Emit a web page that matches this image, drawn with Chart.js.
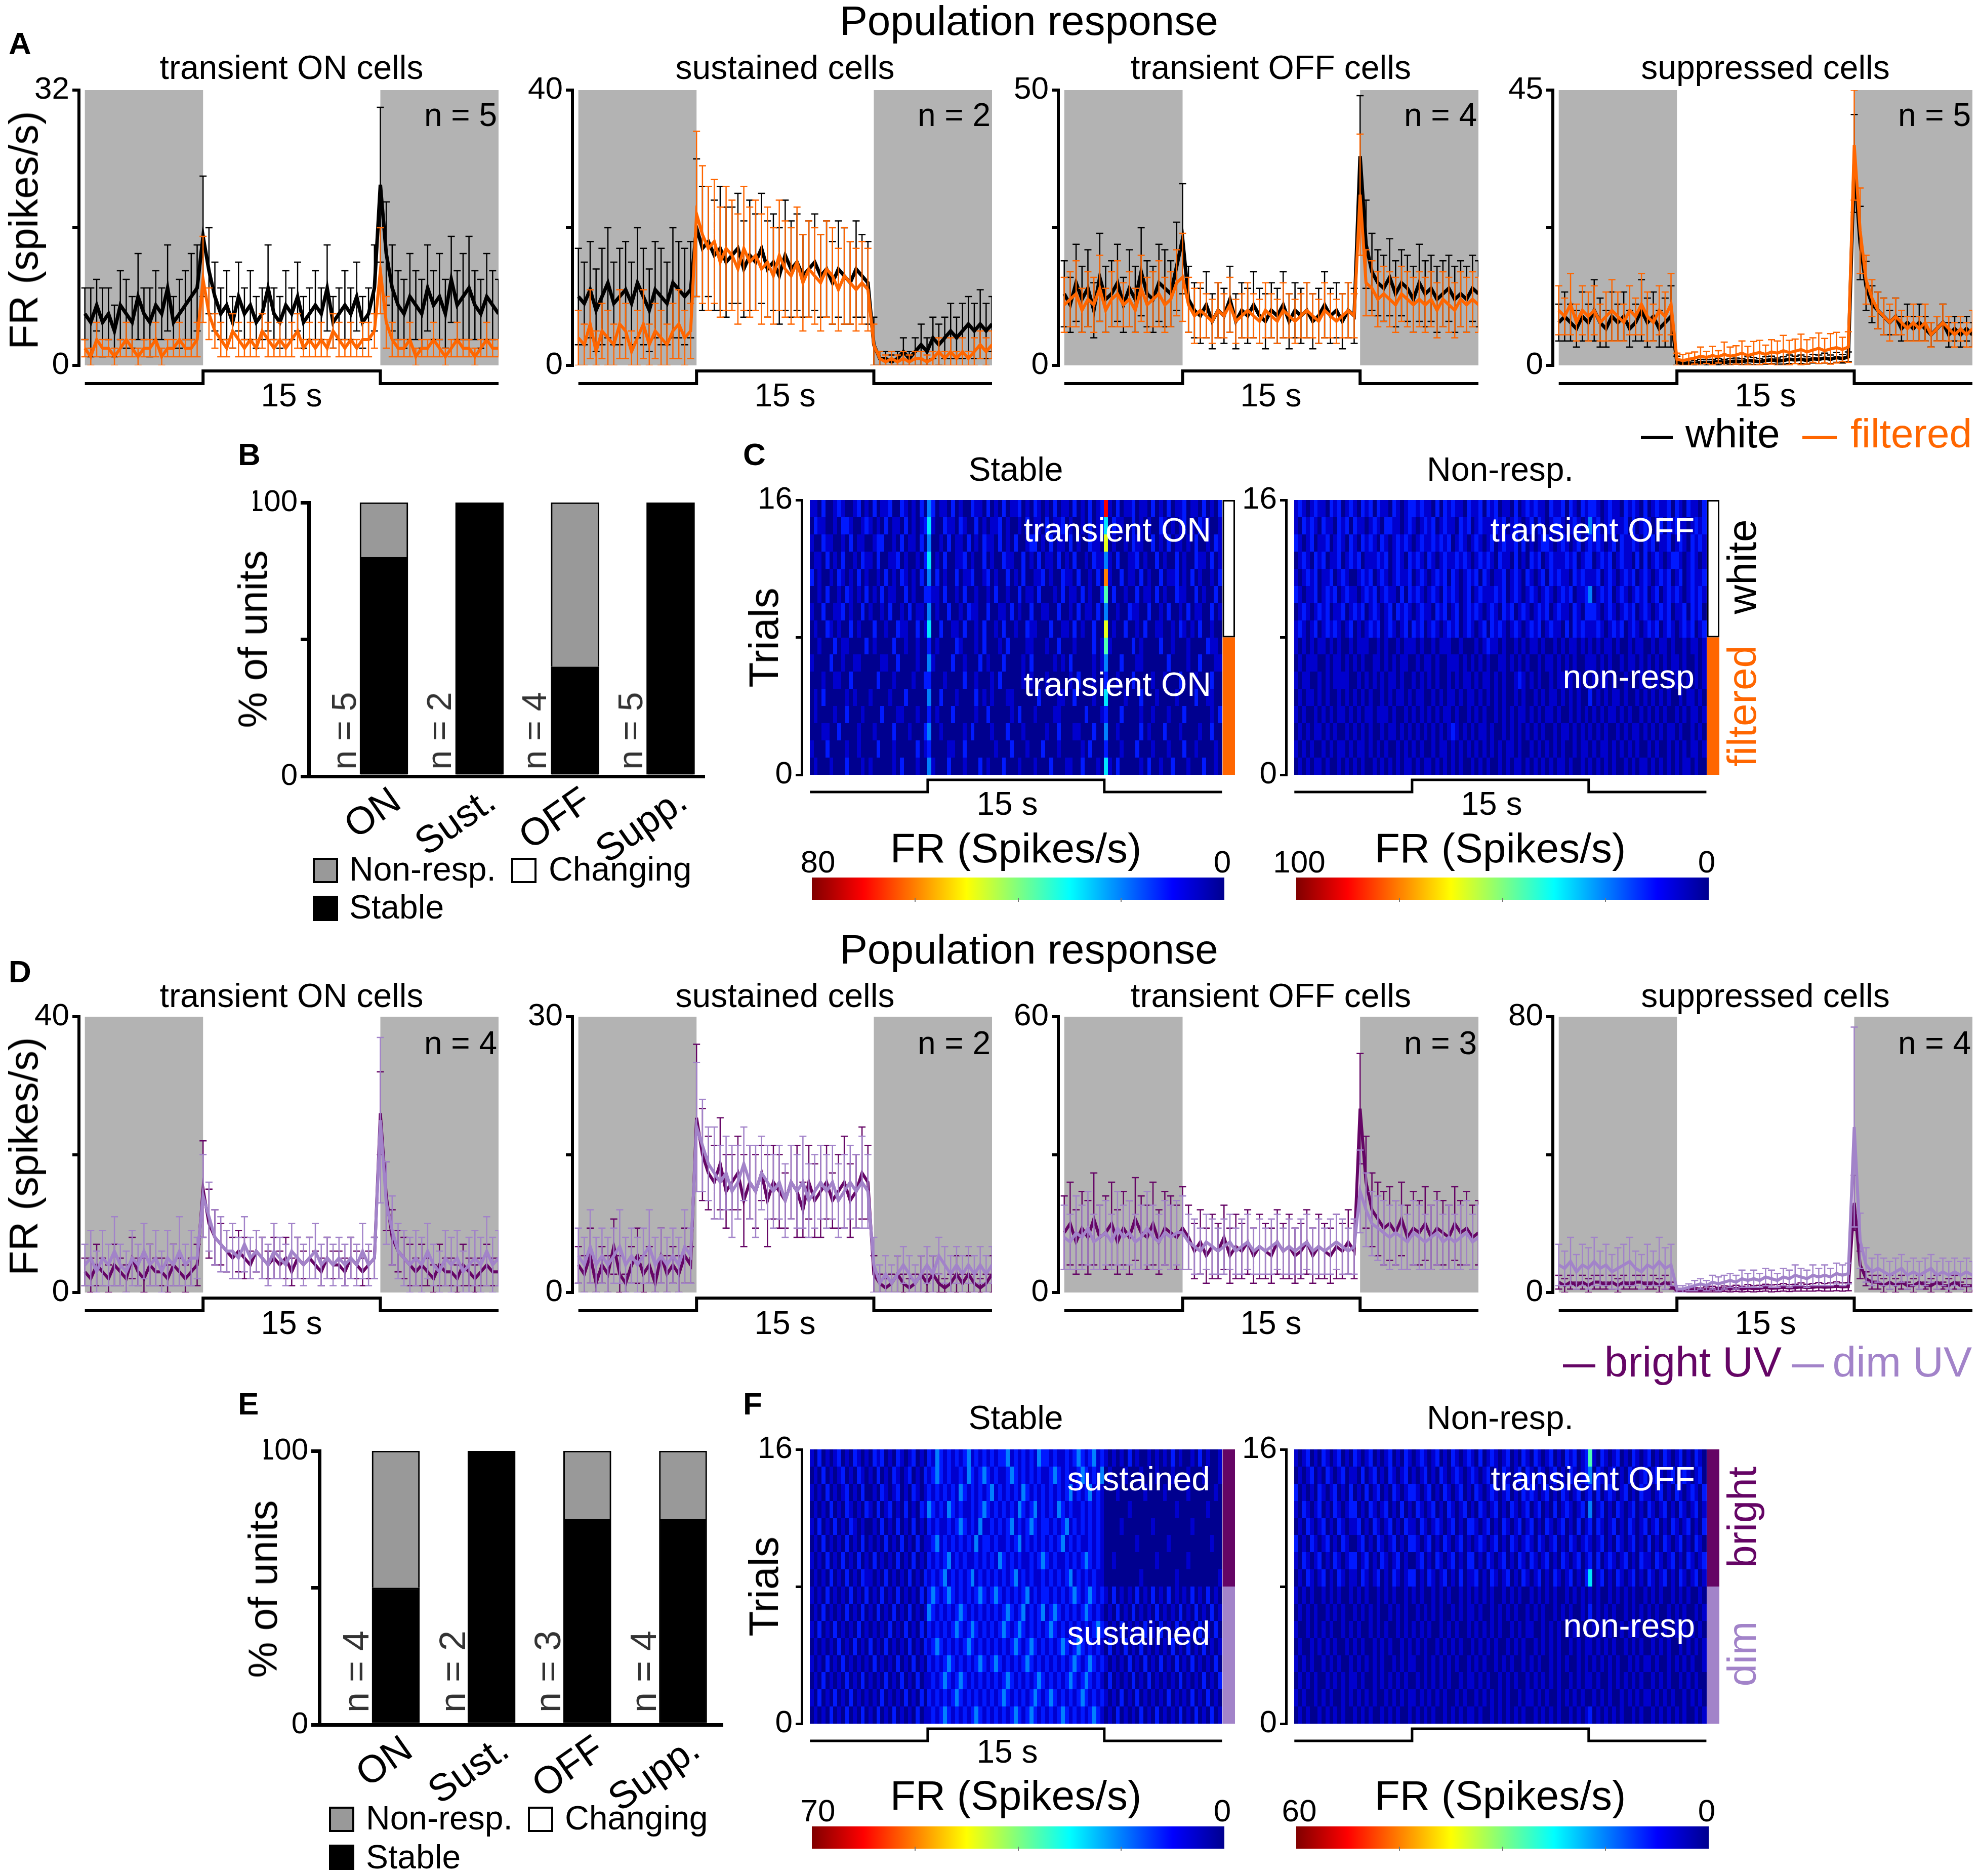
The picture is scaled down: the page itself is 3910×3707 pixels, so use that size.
<!DOCTYPE html>
<html>
<head>
<meta charset="utf-8">
<script src="https://cdn.jsdelivr.net/npm/chart.js@4.4.1/dist/chart.umd.min.js"></script>
<style>
body { margin: 0; background: #fff; }
#fig { position: relative; width: 3910px; height: 3707px; background: #fff; overflow: hidden; font-family: 'Liberation Sans', Arial, sans-serif; color: #000; }
#fig canvas { position: absolute; }
.t { position: absolute; white-space: nowrap; line-height: 1; transform-origin: 0 0; }
.box { position: absolute; box-sizing: border-box; }
</style>
</head>
<body>
<div id="fig"></div>
<script>
// stimulus: dark 0-10 s, light 10-25 s, dark 25-35 s; PSTH bins of 0.5 s
const stimEdges = [0, 10, 25, 35];
const binWidth = 0.5;

const psthTitles = ['transient ON cells', 'sustained cells', 'transient OFF cells', 'suppressed cells'];
const aMax = [32, 40, 50, 45];
const dMax = [40, 30, 60, 80];
const aN = [5, 2, 4, 5];
const dN = [4, 2, 3, 4];

// Panel A - white vs filtered
const a1White = [6,5,7,5,6,4,7,6,5,8,6,5,7,6,9,5,6,7,8,9,15,11,8,6,7,5,8,6,7,5,6,9,6,5,7,6,8,5,6,7,6,9,5,6,7,6,8,5,6,9,21,13,9,7,6,8,7,6,9,7,8,6,10,7,8,9,7,6,8,7,6];
const a1WhiteErr = [3,4,3,4,3,3,4,4,3,5,3,4,4,3,5,3,4,4,5,5,7,5,4,3,4,3,4,3,4,3,3,5,3,3,4,3,4,3,3,4,3,5,3,3,4,3,4,3,3,5,9,6,5,4,4,5,4,4,5,4,5,4,5,4,5,6,4,4,5,4,4];
const a1Filt = [2,1,3,2,2,1,2,3,2,1,2,2,3,1,2,2,3,2,2,3,10,6,4,3,2,4,3,2,3,2,4,3,2,3,2,3,4,2,3,2,3,2,4,3,2,3,2,3,3,4,11,5,3,2,2,3,1,2,2,3,2,1,2,3,2,2,1,2,3,2,2];
const a1FiltErr = [1,1,2,1,1,1,1,2,1,1,1,1,2,1,1,1,2,1,1,2,5,3,2,2,1,2,2,1,2,1,2,2,1,2,1,2,2,1,2,1,2,1,2,2,1,2,1,2,2,2,5,3,2,1,1,2,1,1,1,2,1,1,1,2,1,1,1,1,2,1,1];

const a2White = [10,9,11,8,10,12,9,10,11,9,12,10,8,11,10,9,12,11,10,11,20,17,18,16,17,15,16,17,14,16,15,17,14,15,13,16,14,15,13,14,15,13,14,12,14,13,12,14,13,12,3,1,1,0.5,1,2,1,2,3,2,4,3,4,5,4,5,6,5,6,5,6];
const a2WhiteErr = [7,6,7,6,7,8,6,7,7,6,8,7,6,7,7,6,8,7,7,7,10,9,8,8,9,8,7,8,7,8,7,8,7,7,7,8,7,7,6,7,7,6,7,6,7,7,6,7,6,6,4,1,1,1,1,2,1,2,3,2,3,3,3,4,3,4,4,4,5,4,4];
const a2Filt = [4,3,6,2,5,4,3,6,5,2,4,6,3,5,4,3,5,6,4,5,22,19,17,18,15,17,16,14,17,15,16,14,15,13,16,14,13,15,12,14,13,12,14,13,11,13,12,11,12,11,3,1,0.5,1,0.5,1,0.5,1,1,0.5,1,2,1,2,1,2,1,2,3,2,3];
const a2FiltErr = [4,3,5,3,4,4,3,5,4,3,4,5,3,4,4,3,4,5,4,4,12,10,9,9,8,9,8,8,9,8,8,8,8,7,8,7,7,8,7,7,7,7,7,7,6,7,6,6,6,6,3,1,1,1,1,1,1,1,1,1,1,2,1,2,1,2,1,2,2,2,2];

const a3White = [13,11,15,12,14,10,16,12,13,15,11,14,12,17,13,12,15,14,13,18,23,12,10,9,11,8,10,9,12,8,10,9,11,9,8,10,9,11,8,10,9,10,8,9,11,9,10,8,10,9,38,22,17,15,14,16,13,15,14,12,15,13,14,12,13,14,12,13,12,14,13];
const a3WhiteErr = [6,5,7,6,7,5,8,6,6,7,5,7,6,8,6,6,7,7,6,8,10,6,5,5,6,5,5,5,6,5,5,5,6,5,5,5,5,6,5,5,5,5,5,5,6,5,5,5,5,5,11,8,7,6,6,7,6,6,6,6,7,6,6,6,6,6,6,6,6,6,6];
const a3Filt = [11,12,13,10,12,11,14,10,12,13,11,12,10,14,11,12,13,11,12,15,16,11,9,10,9,8,10,9,11,8,9,10,9,8,10,9,8,10,9,8,9,10,9,8,10,9,8,9,10,9,31,15,14,12,13,12,11,13,12,11,12,11,12,10,12,11,10,12,11,12,11];
const a3FiltErr = [5,5,6,4,5,5,6,4,5,6,4,5,4,6,5,5,6,5,5,6,8,5,5,5,4,4,5,4,5,4,4,5,4,4,5,4,4,5,4,4,4,5,4,4,5,4,4,4,5,4,11,6,5,5,5,5,5,5,5,5,5,5,5,5,5,5,5,5,5,5,5];

const a4White = [7,8,7,6,8,7,9,7,6,8,7,8,6,7,9,7,8,6,7,8,0.5,0.3,0.4,0.3,0.5,0.4,0.5,0.6,0.5,0.6,0.7,0.6,0.8,0.7,0.6,0.8,0.9,0.7,0.8,1,0.9,1,0.8,1.1,1,1.2,1,1.3,1.1,1.4,33,20,13,10,9,8,7,8,6,7,6,7,6,5,6,7,5,6,5,6,5];
const a4WhiteErr = [3,4,3,3,4,3,5,4,3,4,3,4,3,3,5,4,4,3,4,5,1,0.5,0.5,0.5,0.5,0.5,0.5,0.5,0.5,0.5,0.5,0.5,0.6,0.6,0.5,0.6,0.6,0.5,0.6,0.7,0.6,0.7,0.6,0.7,0.7,0.8,0.7,0.8,0.7,0.8,8,6,4,3,3,3,2,3,2,3,2,3,2,2,2,3,2,2,2,2,2];
const a4Filt = [9,8,10,7,9,8,9,7,8,9,8,7,9,8,10,8,7,9,8,10,1,0.8,1,1.2,1.5,1.3,1.6,1.4,1.8,1.5,1.7,2,1.6,1.9,2.1,1.8,2.2,2,2.4,2.1,2.3,2.6,2.2,2.5,2.8,2.4,2.7,2.9,2.6,3,36,22,14,11,9,8,7,8,7,6,7,6,7,5,6,7,6,5,6,5,6];
const a4FiltErr = [4,3,5,3,4,4,4,3,4,5,4,3,4,3,5,4,3,4,4,5,1,1,1,1,1.5,1,1.5,1,2,1.5,1.5,2,1.5,2,2,1.5,2,2,2.5,2,2,2.5,2,2,2.5,2,2.5,2.5,2,2.5,9,7,4,3,3,3,3,3,2,2,3,2,3,2,2,3,2,2,2,2,3];

// Panel D - bright UV vs dim UV
const d1Bright = [3,2,4,3,2,4,3,2,5,3,2,4,3,3,2,4,3,2,3,4,15,10,8,7,6,5,6,5,4,6,5,4,5,4,5,3,5,4,5,4,3,5,4,4,3,5,4,3,4,5,26,14,8,6,5,4,3,4,3,2,4,3,3,2,4,3,2,3,4,3,3];
const d1BrightErr = [2,3,3,2,2,3,2,2,3,2,3,3,2,2,2,3,2,2,2,3,7,5,4,3,3,3,3,3,2,3,3,2,3,2,3,2,3,2,3,2,2,3,2,2,2,3,2,2,2,3,6,5,4,3,3,3,2,3,2,2,3,2,2,2,3,2,2,2,3,2,2];
const d1Dim = [4,5,3,5,4,6,4,3,5,4,6,4,5,3,5,4,6,4,5,5,14,11,8,7,6,6,5,7,5,6,5,4,6,5,4,6,5,4,5,6,4,5,4,5,4,5,4,6,4,5,25,13,9,6,5,4,5,4,6,4,3,5,4,5,3,4,5,4,6,4,5];
const d1DimErr = [3,4,3,4,3,5,3,3,4,3,4,3,4,3,4,3,5,3,4,3,6,5,4,4,3,4,3,4,3,3,3,3,4,3,3,4,3,3,3,4,3,3,3,3,3,3,3,4,3,3,12,6,5,4,4,4,4,4,4,3,3,4,4,4,3,4,4,4,5,4,4];

const d2Bright = [3,2,4,1,3,2,5,2,1,3,4,2,3,1,4,2,3,2,4,3,19,15,13,12,14,11,12,13,10,12,11,13,10,12,11,10,12,11,9,12,10,11,12,10,11,12,10,11,13,12,2,1,0.5,1,2,1,0.5,1,2,1,2,1,0.5,1,2,1,2,1,0.5,1,2];
const d2BrightErr = [2,2,3,1,2,2,3,2,1,2,3,2,2,1,3,2,2,2,3,2,8,5,4,4,5,4,3,4,5,4,4,3,5,4,4,3,4,5,3,4,4,5,4,3,4,5,4,4,5,4,2,1,1,1,2,1,1,1,2,1,2,1,1,1,2,1,2,1,1,1,2];
const d2Dim = [4,3,5,3,4,3,4,5,3,4,3,4,5,3,4,3,4,3,5,4,18,16,14,13,12,13,11,12,14,12,11,13,12,11,12,10,12,11,12,10,11,12,11,12,10,11,12,11,12,11,3,1,2,1,2,3,2,1,2,3,2,4,3,2,3,2,3,2,3,2,3];
const d2DimErr = [3,3,4,3,3,3,3,4,3,3,3,3,4,3,3,3,3,3,4,3,7,5,4,5,4,4,5,4,4,4,5,4,4,4,4,4,4,4,5,4,4,4,4,4,4,4,4,4,5,4,3,2,2,2,2,2,2,2,2,2,2,2,2,2,2,2,2,2,2,2,2];

const d3Bright = [13,15,11,14,12,16,12,13,15,11,14,12,16,13,12,15,11,14,13,12,14,12,9,11,8,10,9,12,8,10,9,11,8,10,9,8,11,9,10,8,9,11,8,10,9,8,10,9,11,9,40,24,18,16,14,15,13,16,12,14,13,15,12,14,13,12,15,13,14,12,13];
const d3BrightErr = [8,9,7,8,8,10,7,8,9,7,8,8,9,8,7,9,7,8,8,7,9,7,6,7,6,7,6,7,6,7,6,7,6,7,6,6,7,6,7,6,6,7,6,7,6,6,7,6,7,6,12,10,8,8,8,8,7,8,7,8,7,8,7,8,7,7,8,7,8,7,7];
const d3Dim = [12,11,13,12,14,11,12,13,11,14,12,13,11,12,14,12,11,13,12,13,13,11,10,9,11,10,9,10,11,9,10,11,9,10,9,10,11,9,10,9,10,11,9,10,9,10,11,10,9,10,22,18,15,14,13,12,13,12,11,13,12,11,12,13,11,12,11,12,13,11,12];
const d3DimErr = [7,6,8,7,8,6,7,7,6,8,7,7,6,7,8,7,6,7,7,7,8,6,6,5,6,6,5,6,6,5,6,6,5,6,5,6,6,5,6,5,6,6,5,6,5,6,6,6,5,6,9,8,7,7,7,7,7,7,6,7,7,6,7,7,6,7,6,7,7,6,7];

const d4Bright = [3,2,3,2,3,2,3,3,2,3,2,3,2,3,3,2,3,2,3,2,0.5,0.5,0.6,0.8,0.7,0.9,1,0.8,1.1,1,1.2,1,1.3,1.1,1.2,1.4,1.2,1.3,1.5,1.3,1.4,1.6,1.4,1.5,1.7,1.5,1.6,1.8,1.6,1.7,26,8,4,3,3,2,3,2,3,2,2,3,2,2,3,2,2,3,2,2,2];
const d4BrightErr = [2,2,2,1,2,2,2,2,1,2,2,2,1,2,2,1,2,2,2,1,0.5,0.5,0.5,0.6,0.6,0.7,0.8,0.7,0.8,0.8,0.9,0.8,1,0.9,0.9,1,1,1,1.1,1,1,1.2,1,1.1,1.2,1.1,1.2,1.3,1.2,1.2,8,4,2,2,2,2,2,2,2,1,2,2,1,2,2,1,2,2,1,2,2];
const d4Dim = [8,7,9,6,8,7,9,7,8,6,7,8,9,7,6,8,7,9,7,8,1,1,1.5,2,2.5,2,3,2.5,3,3.5,3,4,3.5,4,3.5,4.5,4,3.5,4.5,4,5,4.5,4,5,4.5,5,4.5,5.5,5,5.5,48,15,8,6,7,6,5,6,7,5,6,5,6,7,5,6,5,6,5,6,5];
const d4DimErr = [6,5,7,5,6,6,7,5,6,5,6,6,7,5,5,6,5,7,6,6,1,1,1,1.5,1.5,1.5,2,2,2,2,2,2.5,2,2.5,2,2.5,2.5,2,2.5,2.5,3,2.5,2.5,3,2.5,3,2.5,3,3,3,29,8,5,4,4,4,4,4,4,4,4,4,4,4,4,4,4,4,4,4,4];

// Panels B and E - % of units per class
const barCats = ['ON', 'Sust.', 'OFF', 'Supp.'];
const bStable = [80, 100, 40, 100];
const bNonResp = [20, 0, 60, 0];
const bN = [5, 2, 4, 5];
const eStable = [50, 100, 75, 75];
const eNonResp = [50, 0, 25, 25];
const eN = [4, 2, 3, 4];

// Panels C and F - trial x time firing rate, 16 trials (top row first), 1/3 s columns.
// Each digit is a level; heatLevels gives that level as a fraction of the colour-bar maximum.
const heatLevels = [0, 0.07, 0.15, 0.25, 0.35, 0.45, 0.6, 0.75, 0.88, 1];
const cMax = [80, 100];
const fMax = [70, 60];
const c1Rows = [
  '110200121001201 020112002101020 320110201002110 201020112010210 102011020102012 810201120110201 020112011020102',
  '021100102210012 101020110201012 410021102100201 011201001020110 201120100102012 402110020101002 101012010211001',
  '100211001020110 012200102011020 300102011020102 110201020012201 020110201002110 601001021100201 020110102001021',
  '011020102001021 102001120100102 401020011201002 010021100201020 110201020010211 310200112010020 100201002110201',
  '201001021010201 001020102101020 302010020112001 201002010200112 010021102001020 710020110201002 011201020100102',
  '001020010210102 010201100201002 211020010200100 102001002011020 001020110201002 502001002011020 100211002010020',
  '100200112010020 100102001020110 301002001021100 200110201002001 100200102011020 300100211002001 020010201100201',
  '010021010020100 020010021100201 400200110200102 001020010021100 020011020100200 601002001020011 001021010200100',
  '001000201100002 010000200100100 201000021000102 000102000011000 100200010000201 510000020100002 001000100002110',
  '100002001001100 000110020000100 310000200100020 100020000102000 001010200000101 300020001100000 020000100200011',
  '000100110020000 002000100001002 200010000200100 010200000101000 100000102000100 200100020000100 100020001000200',
  '010200000101000 100001000200000 300200010000201 010001100000020 000110020000100 400001000200010 000100002001100',
  '010000100200010 000200011000100 201000200000100 200000102000100 001100000020001 200020000100100 010002000000102',
  '000110020000100 010000200010002 300100000102000 010002000100000 100200011000200 300100000201000 200010000100200',
  '100020000100100 002000100000201 200001100200000 001000200010002 000100000102000 200010002000100 010002001000010',
  '010001000200010 100000102000100 310002000100020 100020001000100 020001100200010 410200000102001 002000100020010'
];
const c2Rows = [
  '121012110212012 102120211021012 212110202121102 112021201102012 121102112021021 221012110212102 012112021021102',
  '102121021102120 211012102211012 101212012110212 012111212012101 202101221012101 312012111202012 101202121101212',
  '210120112012102 102121021012121 012112121201210 121012012112020 101221012101201 212101202112102 120112012102121',
  '012102120112012 120111212012102 121021012112121 012121021102010 212012111212012 201212012110202 012101221012101',
  '101212011201210 012120121012112 012101212021012 120210112012102 101202121102121 112012101212012 101212012012112',
  '210112012120121 101212012110202 121012102121012 012111212012101 210121012120112 301212012101212 012012121012121',
  '012101212011201 212012101202121 012110212012012 121012102120121 012120121102102 221012101212012 101212011202120',
  '121012012121012 010121201210120 212012101212012 101202121012101 212012110202121 112101212012101 212012101212012',
  '101010110101001 011100101001011 101001011100100 010121101001010 110100101011010 101011010010110 010110100101101',
  '010111001011010 101001101010110 010110100111010 101010011010101 001011010101001 110101001011010 101010110100101',
  '101100101011110 010101010110100 101010100101011 010110101001210 101001011110101 010110100101010 101001011010101',
  '010110101001010 101010010101101 011001010110101 101010101001010 010101101010100 201010110100101 010101001011010',
  '101001010101101 010110111010010 101010101101001 010100101010110 101011010010101 010101101010010 101010010101101',
  '010101101010010 101010010110101 010101010121010 101101001010101 010100101101010 101010010101101 010101101001010',
  '101010010101101 011010101001010 101001011010101 010101010110100 101010101001011 010110101010100 101001010101101',
  '010101101001010 101001010101011 010110101010100 101010010101101 010101011010010 101010100101011 010101010110100'
];
const f1Rows = [
  '102010120102101 021201021012010 213212121231212 121223121212132 212112123212312 101010201001010 102010010201001',
  '010201012010210 102010210120102 123212112132123 212112321212121 123212112321213 010001000100010 001000100010001',
  '101020101201020 010210120102101 212121213212121 231212121321212 121212312123121 000100000010000 100000100000010',
  '010102010210102 102012010201021 321213212112123 212121213212312 121321211212121 000000100000000 000100000001000',
  '102010201021010 010201020102010 212112123212131 121212312123212 212123121212121 000010000000100 000000010000000',
  '010201010201020 101020102010201 123121212121312 212112123121212 121231212112121 000000001000000 010000000000100',
  '101020102010201 020101020102010 212123121211212 121321212112123 212112121232121 001000000000010 000000100000000',
  '010102010201021 101020101020102 121231212123121 212121231212112 121212312121211 000000000100000 000100000000001',
  '101020101020102 010201020101020 232123212121232 123212121231212 212121232123212 102010102010201 020101020102010',
  '010201010201020 102010201020101 321212123212121 212123212312123 123212121232121 010201020101020 101020102010201',
  '102010201010201 010102010201020 212121232123212 121232123212121 232121212121232 101020101020102 010201010201020',
  '010101020102010 201020101020102 123212121232121 212121232123212 121232123212121 020102010201010 102010201020101',
  '101020102010101 020101020102010 212123212121232 123212121232121 212121232123212 101010201020102 010201020101020',
  '010201010201020 101020102010201 121232123212121 212123212121232 121212321232121 020101020102010 101020101020102',
  '102010201020101 010201010201020 212121232121212 121232121212321 232121212321212 101020102010101 020101020102010',
  '010102010201020 102010201010201 121232121212321 212121232123212 121232121212321 010201010201020 101020102010201'
];
const f2Rows = [
  '101201021012010 210120101201021 012101201021012 102012101201021 021012010212012 510210120102101 201021012010210',
  '010120102101201 102012010210120 101201021012101 210120102101202 102101201021012 302101201021012 012101201210120',
  '201010210120102 010201201021012 210120102101201 021012101201021 210120102101201 202012101201021 101201021012102',
  '102101201021012 201021012010201 021012010210120 102101201021012 012010201210120 301201021012010 210120102101201',
  '010210120102101 120102101201021 102101210120102 210120102101201 201021012010201 202101201021012 012010210120102',
  '201021012010210 012010210120102 210120102101201 012101201021012 102101201021012 101201021012010 201021012010210',
  '102101201021012 201201021012010 012010210120102 201021012010210 210120102101201 202012101201021 102101201021012',
  '010210120102101 102101201021012 201021012010201 120102101201021 012010210120102 401201021012010 210120102101201',
  '101010010101001 010100101010010 101001010100101 010101001010100 101010100101010 101001010101001 010100101010010',
  '010101001010100 101010100101010 010101010010101 101001010101001 010100101010010 201010100101010 101001010100101',
  '100101010100101 010010101001010 101010010101001 010101010010101 100101010101001 010101001010100 101010010101010',
  '010010101010010 101001010100101 010100101010100 101010100101010 010101010010101 101010100101010 010101001010101',
  '101010010101001 010101010010101 100101010101001 010100101010010 101001010100101 010101010010101 101001010101001',
  '010101001010101 101001010101010 010101010100101 101010010101001 010101010010101 101001010101010 010101001010100',
  '101001010100101 010101001010101 101010101001010 010101010100101 101010010101010 010101001010101 101010100101010',
  '010100101010100 101010010101001 010101001010101 101001010101010 010101010010101 201010101001010 010101010100101'
];

const ORANGE = '#ff6600', BRIGHT = '#650565', DIM = '#a283c9', SHADE = '#b3b3b3';

Chart.defaults.font.family = "'Liberation Sans', Arial, sans-serif";
Chart.defaults.color = '#000';
Chart.defaults.animation = false;

const fig = document.getElementById('fig');

function jet(f) {
  const stops = [[0, [0, 0, 143]], [0.125, [0, 0, 255]], [0.375, [0, 255, 255]], [0.625, [255, 255, 0]], [0.875, [255, 0, 0]], [1, [128, 0, 0]]];
  f = Math.min(1, Math.max(0, f));
  for (let i = 1; i < stops.length; i++) {
    const [f0, c0] = stops[i - 1], [f1, c1] = stops[i];
    if (f <= f1) {
      const u = (f - f0) / (f1 - f0);
      return 'rgb(' + c0.map((c, k) => Math.round(c + (c1[k] - c) * u)).join(',') + ')';
    }
  }
}

// grey "dark" epochs behind the traces
const shading = {
  id: 'shading',
  beforeDatasetsDraw(chart, args, o) {
    if (!o.color) return;
    const { ctx, scales: { x, y } } = chart;
    ctx.save();
    ctx.fillStyle = o.color;
    [[stimEdges[0], stimEdges[1]], [stimEdges[2], stimEdges[3]]].forEach(([a, b]) => {
      const x0 = x.getPixelForValue(a), x1 = x.getPixelForValue(b);
      const y0 = y.getPixelForValue(y.max), y1 = y.getPixelForValue(0);
      ctx.fillRect(x0, y0, x1 - x0, y1 - y0);
    });
    ctx.restore();
  }
};

// mean +/- sem bars, drawn under each trace
const errorBars = {
  id: 'errorBars',
  beforeDatasetDraw(chart, args) {
    const ds = chart.data.datasets[args.index];
    if (!ds.err) return;
    const { ctx, chartArea, scales: { y } } = chart;
    ctx.save();
    ctx.beginPath();
    ctx.rect(chartArea.left, chartArea.top, chartArea.right - chartArea.left, chartArea.bottom - chartArea.top);
    ctx.clip();
    ctx.strokeStyle = ds.borderColor;
    ctx.lineWidth = 2.5;
    ctx.beginPath();
    args.meta.data.forEach((pt, i) => {
      const v = ds.data[i].y, e = ds.err[i];
      const yt = y.getPixelForValue(v + e), yb = y.getPixelForValue(Math.max(0, v - e));
      ctx.moveTo(pt.x, yt); ctx.lineTo(pt.x, yb);
      ctx.moveTo(pt.x - 7, yt); ctx.lineTo(pt.x + 7, yt);
      ctx.moveTo(pt.x - 7, yb); ctx.lineTo(pt.x + 7, yb);
    });
    ctx.stroke();
    ctx.restore();
  }
};

// stimulus step drawn below the plot
const stimTrace = {
  id: 'stimTrace',
  afterDraw(chart, args, o) {
    if (!o.width) return;
    const { ctx, chartArea, scales: { x } } = chart;
    const hi = chartArea.bottom + o.hi, lo = chartArea.bottom + o.lo;
    const px = stimEdges.map(t => x.getPixelForValue(t));
    ctx.save();
    ctx.strokeStyle = '#000';
    ctx.lineWidth = o.width;
    ctx.beginPath();
    ctx.moveTo(px[0], lo); ctx.lineTo(px[1], lo); ctx.lineTo(px[1], hi);
    ctx.lineTo(px[2], hi); ctx.lineTo(px[2], lo); ctx.lineTo(px[3], lo);
    ctx.stroke();
    ctx.restore();
  }
};

// trial x time heat map + condition band on the right
const heat = {
  id: 'heat',
  beforeDatasetsDraw(chart, args, o) {
    if (!o.rows) return;
    const { ctx, scales: { x, y } } = chart;
    const n = o.rows.length;
    ctx.save();
    o.rows.forEach((row, r) => {
      const lv = row.replace(/ /g, '');
      const w = stimEdges[3] / lv.length;
      const yt = Math.round(y.getPixelForValue(n - r)), yb = Math.round(y.getPixelForValue(n - r - 1));
      for (let c = 0; c < lv.length; c++) {
        const x0 = Math.floor(x.getPixelForValue(c * w)), x1 = Math.ceil(x.getPixelForValue((c + 1) * w));
        ctx.fillStyle = jet(heatLevels[+lv[c]]);
        ctx.fillRect(x0, yt, x1 - x0, yb - yt);
      }
    });
    o.bands.forEach(b => {
      const x0 = x.getPixelForValue(o.bandX[0]), x1 = x.getPixelForValue(o.bandX[1]);
      const y0 = y.getPixelForValue(b.to), y1 = y.getPixelForValue(b.from);
      ctx.fillStyle = b.fill;
      ctx.fillRect(x0, y0, x1 - x0, y1 - y0);
      if (b.stroke) {
        ctx.strokeStyle = b.stroke; ctx.lineWidth = 3;
        ctx.strokeRect(x0 + 1.5, y0 + 1.5, x1 - x0 - 3, y1 - y0 - 3);
      }
    });
    ctx.restore();
  }
};

const AX_W = 110;

function place(left, top, w, h) {
  const c = document.createElement('canvas');
  c.width = w; c.height = h;
  c.style.left = left + 'px'; c.style.top = top + 'px';
  c.style.width = w + 'px'; c.style.height = h + 'px';
  fig.appendChild(c);
  return c;
}

function yAxis(max, fs, lw, tl) {
  return {
    min: 0, max,
    afterFit: a => { a.width = AX_W; },
    ticks: { stepSize: max / 2, autoSkip: false, padding: 6, font: { size: fs }, color: '#000',
      callback: v => (v === 0 || v === max) ? String(v) : '' },
    grid: { display: true, drawOnChartArea: false, drawTicks: true, tickLength: tl, lineWidth: lw, color: '#000' },
    border: { display: true, width: lw, color: '#000' }
  };
}

function psth(ax, right, top, bottom, max, series) {
  const cv = place(ax - AX_W, top - 50, right - ax + AX_W + 15, bottom - top + 120);
  new Chart(cv, {
    type: 'line',
    data: {
      datasets: series.map(s => ({
        data: s.v.map((v, i) => ({ x: i * binWidth, y: v })),
        err: s.e,
        borderColor: s.color,
        borderWidth: s.lw,
        pointRadius: 0,
        tension: 0,
        fill: false,
        order: s.order
      }))
    },
    options: {
      responsive: false, devicePixelRatio: 1, animation: false,
      layout: { padding: { left: 0, top: 50, right: 15, bottom: 70 } },
      plugins: { legend: { display: false }, tooltip: { enabled: false },
        shading: { color: SHADE }, stimTrace: { width: 6, hi: 11, lo: 36 } },
      scales: {
        x: { type: 'linear', min: -0.5, max: stimEdges[3], display: false },
        y: yAxis(max, 62, 6, 13)
      }
    },
    plugins: [shading, errorBars, stimTrace]
  });
}

function heatmap(ax, right, top, bottom, rows, bands) {
  const cv = place(ax - AX_W, top - 50, right - ax + AX_W + 10, bottom - top + 120);
  new Chart(cv, {
    type: 'scatter',
    data: { datasets: [{ data: [] }] },
    options: {
      responsive: false, devicePixelRatio: 1, animation: false,
      layout: { padding: { left: 0, top: 50, right: 10, bottom: 70 } },
      plugins: { legend: { display: false }, tooltip: { enabled: false },
        heat: { rows, bands, bandX: [35.05, 36.1] }, stimTrace: { width: 5, hi: 10, lo: 34 } },
      scales: {
        x: { type: 'linear', min: -0.7, max: 36.1, display: false },
        y: yAxis(16, 62, 5, 12)
      }
    },
    plugins: [heat, stimTrace]
  });
}

function bars(ax, right, top, bottom, xMin, xMax, stable, nonResp, thick) {
  const cv = place(ax - AX_W, top - 50, right - ax + AX_W + 10, bottom - top + 100);
  new Chart(cv, {
    type: 'bar',
    data: {
      datasets: [
        { label: 'Stable', data: stable.map((v, i) => ({ x: i + 1, y: v })), backgroundColor: '#000', borderColor: '#000', borderWidth: 3, barThickness: thick },
        { label: 'Non-resp.', data: nonResp.map((v, i) => ({ x: i + 1, y: v })), backgroundColor: '#999999', borderColor: '#000', borderWidth: 3, barThickness: thick }
      ]
    },
    options: {
      responsive: false, devicePixelRatio: 1, animation: false,
      layout: { padding: { left: 0, top: 50, right: 10, bottom: 50 } },
      plugins: { legend: { display: false }, tooltip: { enabled: false } },
      scales: {
        x: { type: 'linear', min: xMin, max: xMax, stacked: true, offset: false,
          afterFit: a => { a.height = 0; },
          ticks: { display: false }, grid: { display: false },
          border: { display: true, width: 7, color: '#000' } },
        y: Object.assign(yAxis(100, 60, 7, 16), { stacked: true })
      }
    }
  });
}

function txt(s, x, y, o = {}) {
  const d = document.createElement('div');
  d.className = 't';
  d.textContent = s;
  d.style.fontSize = (o.size || 64) + 'px';
  d.style.left = x + 'px';
  d.style.top = y + 'px';
  if (o.color) d.style.color = o.color;
  if (o.bold) d.style.fontWeight = 'bold';
  const tx = { left: '0', center: '-50%', right: '-100%' }[o.align || 'left'];
  const ty = o.mid ? '-50%' : '-0.85em';
  d.style.transform = 'rotate(' + (o.rot || 0) + 'deg) translate(' + tx + ', ' + ty + ')';
  fig.appendChild(d);
}

function box(x, y, w, h, css) {
  const d = document.createElement('div');
  d.className = 'box';
  Object.assign(d.style, { left: x + 'px', top: y + 'px', width: w + 'px', height: h + 'px' }, css);
  fig.appendChild(d);
}

// ---------- PSTH rows ----------
const psthCols = [{ ax: 156, right: 985 }, { ax: 1131, right: 1960 }, { ax: 2091, right: 2921 }, { ax: 3068, right: 3897 }];
const rowA = { top: 178, bottom: 722 }, rowD = { top: 2009, bottom: 2554 };

const aData = [[a1White, a1WhiteErr, a1Filt, a1FiltErr], [a2White, a2WhiteErr, a2Filt, a2FiltErr],
  [a3White, a3WhiteErr, a3Filt, a3FiltErr], [a4White, a4WhiteErr, a4Filt, a4FiltErr]];
const dData = [[d1Bright, d1BrightErr, d1Dim, d1DimErr], [d2Bright, d2BrightErr, d2Dim, d2DimErr],
  [d3Bright, d3BrightErr, d3Dim, d3DimErr], [d4Bright, d4BrightErr, d4Dim, d4DimErr]];

psthCols.forEach((c, i) => {
  const [w, we, f, fe] = aData[i];
  psth(c.ax, c.right, rowA.top, rowA.bottom, aMax[i], [
    { v: w, e: we, color: '#000', lw: 7, order: 1 },
    { v: f, e: fe, color: ORANGE, lw: 6, order: 0 }
  ]);
  const [b, be, m, me] = dData[i];
  psth(c.ax, c.right, rowD.top, rowD.bottom, dMax[i], [
    { v: b, e: be, color: BRIGHT, lw: 6, order: 1 },
    { v: m, e: me, color: DIM, lw: 6, order: 0 }
  ]);
});

// ---------- heat maps ----------
const heatCols = [{ ax: 1584, right: 2440 }, { ax: 2541, right: 3397 }];
const rowC = { top: 988, bottom: 1531 }, rowF = { top: 2864, bottom: 3406 };
const cBands = [{ from: 8, to: 16, fill: '#fff', stroke: '#000' }, { from: 0, to: 8, fill: ORANGE }];
const fBands = [{ from: 8, to: 16, fill: BRIGHT }, { from: 0, to: 8, fill: DIM }];
heatmap(heatCols[0].ax, heatCols[0].right, rowC.top, rowC.bottom, c1Rows, cBands);
heatmap(heatCols[1].ax, heatCols[1].right, rowC.top, rowC.bottom, c2Rows, cBands);
heatmap(heatCols[0].ax, heatCols[0].right, rowF.top, rowF.bottom, f1Rows, fBands);
heatmap(heatCols[1].ax, heatCols[1].right, rowF.top, rowF.bottom, f2Rows, fBands);

// ---------- bar charts ----------
bars(610, 1392, 993, 1534, 0.2135, 4.355, bStable, bNonResp, 95);
bars(631, 1428, 2867, 3408, 0.202, 4.415, eStable, eNonResp, 94);

// ---------- text ----------
txt('Population response', 2033, 70, { size: 82, align: 'center' });
txt('Population response', 2033, 1905, { size: 82, align: 'center' });
txt('A', 17, 108, { size: 62, bold: true });
txt('D', 17, 1942, { size: 62, bold: true });
txt('B', 470, 920, { size: 62, bold: true });
txt('C', 1468, 920, { size: 62, bold: true });
txt('E', 470, 2796, { size: 62, bold: true });
txt('F', 1468, 2796, { size: 62, bold: true });

psthCols.forEach((c, i) => {
  const mid = c.ax + 420;
  txt(psthTitles[i], mid, 156, { size: 66, align: 'center' });
  txt(psthTitles[i], mid, 1990, { size: 66, align: 'center' });
  txt('n = ' + aN[i], c.right - 3, 249, { size: 64, align: 'right' });
  txt('n = ' + dN[i], c.right - 3, 2083, { size: 64, align: 'right' });
  txt('15 s', mid, 803, { size: 64, align: 'center' });
  txt('15 s', mid, 2636, { size: 64, align: 'center' });
});
txt('FR (spikes/s)', 47, 455, { size: 80, align: 'center', mid: true, rot: -90 });
txt('FR (spikes/s)', 47, 2285, { size: 80, align: 'center', mid: true, rot: -90 });

// legends of A and D
box(3242, 861, 63, 6, { background: '#000' });
txt('white', 3330, 885, { size: 80 });
box(3561, 861, 68, 6, { background: ORANGE });
txt('filtered', 3896, 885, { size: 80, align: 'right', color: ORANGE });
box(3088, 2696, 64, 6, { background: BRIGHT });
txt('bright UV', 3520, 2720, { size: 84, align: 'right', color: BRIGHT });
box(3540, 2696, 64, 6, { background: DIM });
txt('dim UV', 3896, 2720, { size: 84, align: 'right', color: DIM });

// bar panels
const bCenters = [758.5, 947, 1135, 1325];
const eCenters = [782, 972.5, 1161, 1349.5];
txt('% of units', 500, 1263, { size: 80, align: 'center', mid: true, rot: -90 });
txt('% of units', 520, 3140, { size: 80, align: 'center', mid: true, rot: -90 });
barCats.forEach((s, i) => {
  txt('n = ' + bN[i], bCenters[i] - 80, 1444, { size: 68, align: 'center', mid: true, rot: -90, color: '#333' });
  txt('n = ' + eN[i], eCenters[i] - 79, 3303, { size: 72, align: 'center', mid: true, rot: -90, color: '#333' });
  txt(s, bCenters[i] + 38, 1594, { size: 76, align: 'right', rot: -35 });
  txt(s, eCenters[i] + 38, 3468, { size: 76, align: 'right', rot: -35 });
});
[[618, 1695, 690, 1740, 1010, 1084, 1770, 1815], [650, 3570, 723, 3615, 1043, 1116, 3645, 3692]].forEach(p => {
  box(p[0], p[1], 50, 50, { background: '#999', border: '4px solid #000' });
  txt('Non-resp.', p[2], p[3], { size: 66 });
  box(p[4], p[1], 50, 50, { background: '#fff', border: '4px solid #000' });
  txt('Changing', p[5], p[3], { size: 66 });
  box(p[0], p[6], 50, 50, { background: '#000' });
  txt('Stable', p[2], p[7], { size: 66 });
});

// heat map panels
const jetCss = 'linear-gradient(to right, #800000 0%, #ff0000 12.5%, #ffff00 37.5%, #00ffff 62.5%, #0000ff 87.5%, #00008f 100%)';
[[rowC, 950, 1610, 1705, 1725, 1734, cMax], [rowF, 2824, 3483, 3577, 3600, 3609, fMax]].forEach(([row, tY, sY, fY, nY, gY, mx], k) => {
  heatCols.forEach((c, j) => {
    const mid = c.ax + 423;
    txt(j === 0 ? 'Stable' : 'Non-resp.', mid, tY, { size: 66, align: 'center' });
    if (!(k === 1 && j === 1)) txt('15 s', mid - 17, sY, { size: 64, align: 'center' });
    txt('FR (Spikes/s)', mid, fY, { size: 82, align: 'center' });
    const g0 = c.ax + 20, g1 = c.ax + 835;
    box(g0, gY, g1 - g0, 44, { background: jetCss });
    [0.25, 0.5, 0.75].forEach(q => box(g0 + q * (g1 - g0) - 1, gY + 40, 2, 8, { background: '#777' }));
    txt(String(mx[j]), g0 + (j === 0 ? 12 : 6), nY, { size: 62, align: 'center' });
    txt('0', g1 - 4, nY, { size: 62, align: 'center' });
  });
  txt('Trials', 1509, (row.top + row.bottom) / 2, { size: 82, align: 'center', mid: true, rot: -90 });
});
txt('transient ON', 2393, 1070, { size: 66, align: 'right', color: '#fff' });
txt('transient ON', 2393, 1375, { size: 66, align: 'right', color: '#fff' });
txt('transient OFF', 3348, 1070, { size: 66, align: 'right', color: '#fff' });
txt('non-resp', 3348, 1360, { size: 66, align: 'right', color: '#fff' });
txt('sustained', 2391, 2945, { size: 66, align: 'right', color: '#fff' });
txt('sustained', 2391, 3250, { size: 66, align: 'right', color: '#fff' });
txt('transient OFF', 3349, 2945, { size: 66, align: 'right', color: '#fff' });
txt('non-resp', 3349, 3235, { size: 66, align: 'right', color: '#fff' });
txt('white', 3442, 1120, { size: 80, align: 'center', mid: true, rot: -90 });
txt('filtered', 3442, 1395, { size: 80, align: 'center', mid: true, rot: -90, color: ORANGE });
txt('bright', 3442, 2998, { size: 80, align: 'center', mid: true, rot: -90, color: BRIGHT });
txt('dim', 3442, 3268, { size: 80, align: 'center', mid: true, rot: -90, color: DIM });
</script>
</body>
</html>
